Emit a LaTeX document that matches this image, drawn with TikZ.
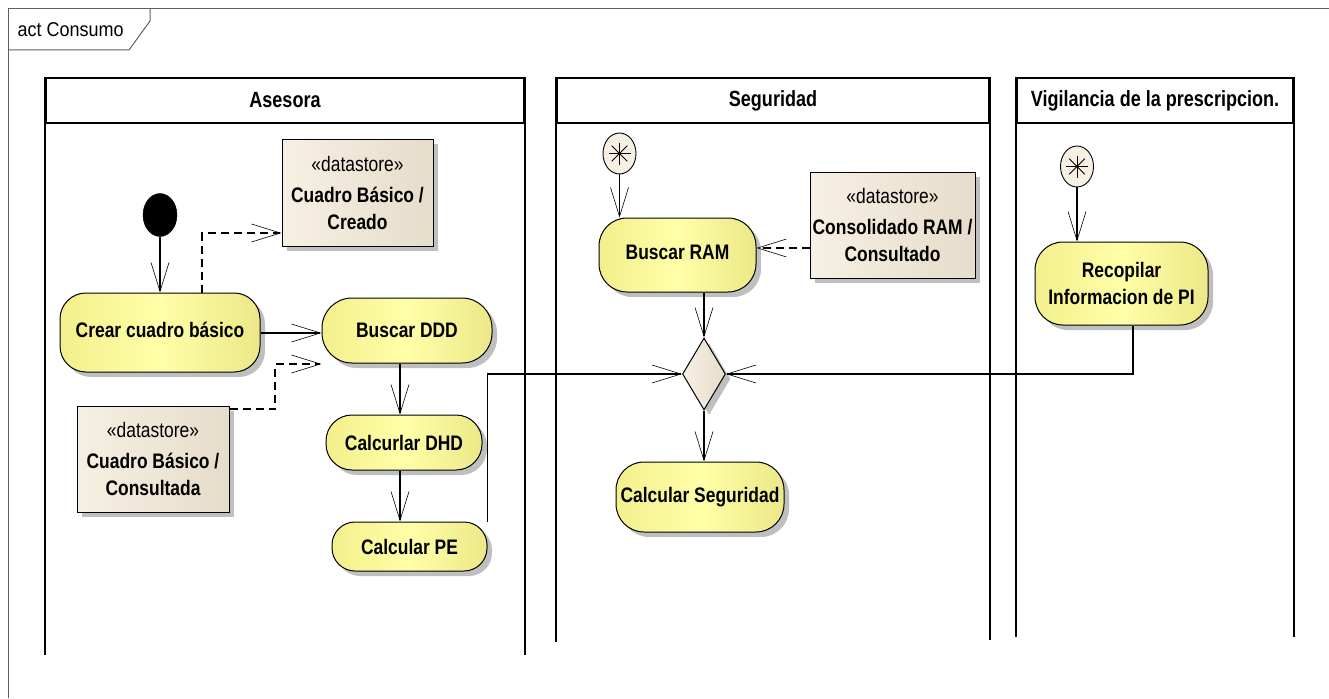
\documentclass[tikz,border=0pt]{standalone}
\usepackage{fontspec}
\setmainfont{Liberation Sans}
\newfontfamily\nrw[FakeStretch=0.83]{Liberation Sans}
\newfontfamily\hdr[FakeStretch=0.82]{Liberation Sans}
\newfontfamily\ttl[FakeStretch=0.9]{Liberation Sans}
\usetikzlibrary{arrows.meta,shapes.geometric,shadows}

\definecolor{actL}{RGB}{243,239,140}
\definecolor{actM}{RGB}{255,255,168}
\definecolor{actR}{RGB}{236,232,136}
\definecolor{dsL}{RGB}{246,240,228}
\definecolor{dsR}{RGB}{230,220,202}
\definecolor{framegray}{RGB}{95,95,95}

\tikzset{
  shadowed/.style={drop shadow={shadow xshift=5pt, shadow yshift=-5pt, fill=black!28, opacity=0.9}},
  actbox/.style={rectangle, draw=black, line width=1pt, shadowed,
    left color=actL, right color=actR, middle color=actM,
    inner sep=0pt, align=center, font=\nrw\bfseries\fontsize{21}{27}\selectfont},
  dsbox/.style={rectangle, draw=black, line width=1pt, shadowed,
    left color=dsL, right color=dsR,
    inner sep=0pt, align=center, font=\nrw\fontsize{21}{27}\selectfont},
  initnode/.style={ellipse, fill=black, draw=black, inner sep=0pt, minimum width=34pt, minimum height=43pt},
  starnode/.style={ellipse, draw=black, line width=0.9pt, fill=dsL, inner sep=0pt,
    minimum width=33pt, minimum height=41pt,
    path picture={\foreach \a in {0,45,90,135}
      \draw[line width=0.8pt] ([shift={(\a:11pt)}]path picture bounding box.center)
        -- ([shift={(\a+180:11pt)}]path picture bounding box.center);}},
  decision/.style={diamond, draw=black, line width=1pt, shadowed,
    left color=dsL, right color=dsR, inner sep=0pt, minimum width=43pt, minimum height=72pt},
  lanehead/.style={rectangle, draw=black, line width=1.6pt, inner sep=0pt,
    font=\hdr\bfseries\fontsize{22}{26}\selectfont},
  lane/.style={draw=black, line width=1.6pt},
  flow/.style={draw=black, line width=1.1pt, -{Straight Barb[length=29pt,width=18pt,line width=0.6pt]}},
  depflow/.style={flow, dash pattern=on 8pt off 5pt},
}

\begin{document}
\begin{tikzpicture}[x=1pt, y=-1pt]
\useasboundingbox (0,0) rectangle (1329,698);

% diagram frame with its name tab
\draw[framegray, line width=1pt] (8,698) -- (8,9) -- (1329,9);
\draw[framegray, line width=1pt] (150,9) -- (150,21) -- (129,50) -- (8,50);
\node[font=\ttl\fontsize{20}{24}\selectfont, anchor=west] (title) at (14,30) {act Consumo};

% swimlanes
\node[lanehead, minimum width=478pt, minimum height=45pt] (hA) at (285,100.5) {Asesora};
\node[lanehead, minimum width=432pt, minimum height=45pt] (hS) at (773,100.5) {Seguridad};
\node[lanehead, minimum width=276pt, minimum height=45pt] (hV) at (1155,100.5) {Vigilancia de la prescripcion.};
\draw[lane] (hA.north west) -- (hA.north west |- 0,655);
\draw[lane] (hA.north east) -- (hA.north east |- 0,655);
\draw[lane] (hS.north west) -- (hS.north west |- 0,642);
\draw[lane] (hS.north east) -- (hS.north east |- 0,640);
\draw[lane] (hV.north west) -- (hV.north west |- 0,637);
\draw[lane] (hV.north east) -- (hV.north east |- 0,637);

% Asesora
\node[initnode] (start) at (160,215) {};
\node[actbox, minimum width=200pt, minimum height=79pt, rounded corners=26pt] (crear) at (160,332.5)
  {\raisebox{6pt}{Crear cuadro básico}};
\node[dsbox, minimum width=151pt, minimum height=107pt] (creado) at (357.5,192.5)
  {«datastore»\\[4pt]\bfseries Cuadro Básico /\\\bfseries Creado};
\node[actbox, minimum width=170pt, minimum height=65pt, rounded corners=30pt] (buscar) at (407,330.5) {Buscar DDD};
\node[dsbox, minimum width=152pt, minimum height=106pt] (consultada) at (153,459)
  {«datastore»\\[4pt]\bfseries Cuadro Básico /\\\bfseries Consultada};
\node[actbox, minimum width=156pt, minimum height=55pt, rounded corners=26pt] (dhd) at (404,442.5) {Calcurlar DHD};
\node[actbox, minimum width=155pt, minimum height=49pt, rounded corners=23pt] (pe) at (409.5,546.5) {Calcular PE};
\coordinate (colA) at (400,0);

% Seguridad
\node[starnode] (sstart) at (619.5,153.5) {};
\node[actbox, minimum width=157pt, minimum height=74pt, rounded corners=28pt] (bram) at (677.5,255)
  {\raisebox{5pt}{Buscar RAM}};
\node[dsbox, minimum width=165pt, minimum height=106pt] (consol) at (892.5,225)
  {«datastore»\\[4pt]\bfseries Consolidado RAM /\\\bfseries Consultado};
\node[decision] (dec) at (704,374) {};
\node[actbox, minimum width=168pt, minimum height=70pt, rounded corners=28pt] (cseg) at (700,497) {Calcular Seguridad};

% Vigilancia de la prescripcion
\node[starnode] (vstart) at (1077,166.5) {};
\node[actbox, minimum width=173pt, minimum height=83pt, rounded corners=28pt] (rec) at (1121.5,283.5)
  {Recopilar\\Informacion de PI};

% control flows
\draw[flow] (start.south) -- (start.south |- crear.north);
\draw[flow] (crear.east |- 0,333) -- (buscar.west |- 0,333);
\draw[flow] (buscar.south -| colA) -- (dhd.north -| colA);
\draw[flow] (dhd.south -| colA) -- (pe.north -| colA);
\draw[flow] (pe.north east) |- (dec.west);
\draw[flow] (sstart.south) -- (sstart.south |- bram.north);
\draw[flow] (bram.south -| dec.north) -- (dec.north);
\draw[flow] (dec.south) -- (dec.south |- cseg.north);
\draw[flow] (vstart.south) -- (vstart.south |- rec.north);
\draw[flow] ([xshift=11.5pt]rec.south) |- (dec.east);

% object flows to and from the datastores
\draw[depflow] (crear.north -| 202,0) |- (creado.west |- 0,233);
\draw[depflow] (consultada.east |- 0,409) -| (275,364) -- (buscar.west |- 0,364);
\draw[depflow] (consol.west |- 0,248) -- (bram.east |- 0,248);
\end{tikzpicture}
\end{document}
